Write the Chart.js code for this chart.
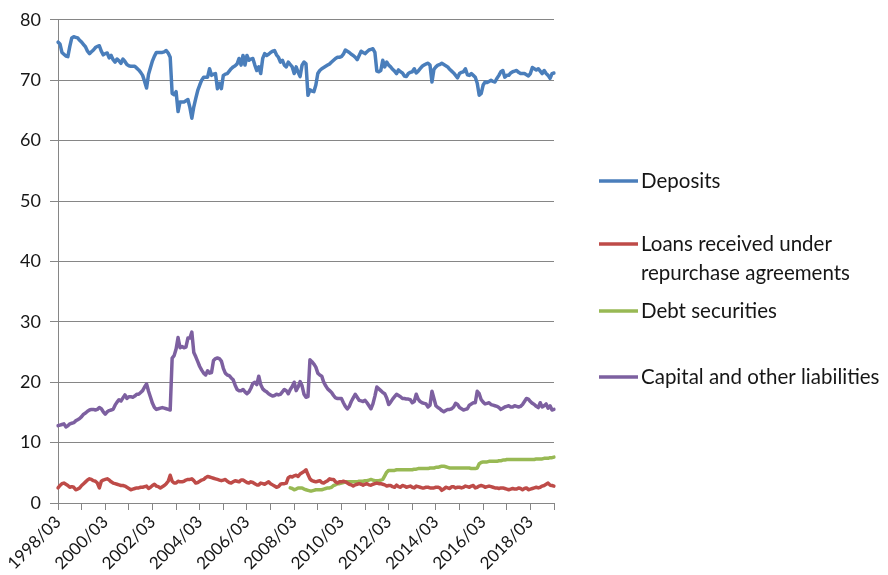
<!DOCTYPE html>
<html>
<head>
<meta charset="utf-8">
<title>Structure of bank liabilities</title>
<script src="https://cdn.jsdelivr.net/npm/chart.js@4/dist/chart.umd.min.js"></script>
<style>
  html, body { margin: 0; padding: 0; background: #ffffff; }
  #wrap { position: relative; width: 888px; height: 575px; }
</style>
</head>
<body>
<div id="wrap"><canvas id="chart" width="888" height="575"></canvas></div>
<script>
// Monthly series, share of total liabilities (%), 1998/03 .. 2019/03
const firstYear = 1998;
const firstMonth = 3;
const monthCount = 253;

const seriesNames = [
  'Deposits',
  'Loans received under\nrepurchase agreements',
  'Debt securities',
  'Capital and other liabilities'
];
const seriesColors = ['#4A7EBB', '#BE4B48', '#98B954', '#7D60A0'];

const deposits = [
  76.3, 76.0, 74.6, 74.3, 74.0, 73.9, 75.6, 77.0, 77.2, 77.1, 77.0, 76.6,
  76.3, 75.9, 75.5, 74.8, 74.4, 74.7, 75.0, 75.4, 75.6, 75.7, 74.8, 74.2,
  74.4, 74.5, 73.7, 74.1, 73.4, 73.0, 73.5, 73.2, 72.8, 73.5, 73.1, 72.6,
  72.4, 72.3, 72.3, 72.3, 72.0, 71.7, 71.3, 70.8, 69.8, 68.7, 71.0, 72.1,
  73.2, 74.0, 74.6, 74.6, 74.6, 74.6, 74.7, 74.9, 74.5, 73.8, 67.8, 67.6,
  68.1, 64.8, 66.4, 66.4, 66.4, 66.6, 66.8, 65.5, 63.7, 65.6, 67.0, 68.3,
  69.2, 70.0, 70.5, 70.5, 70.5, 71.9, 70.8, 71.0, 71.1, 68.6, 69.5, 68.6,
  70.8, 71.0, 71.1, 71.5, 71.9, 72.2, 72.4, 72.7, 73.6, 72.5, 74.1, 72.5,
  74.1, 73.3, 73.5, 73.6, 72.5, 71.6, 72.2, 71.1, 73.6, 74.4, 74.1, 74.3,
  74.6, 74.8, 74.9, 74.2, 73.8, 73.0, 73.3, 72.5, 72.2, 73.0, 72.6, 72.2,
  71.1, 72.2, 71.3, 70.6, 72.5, 73.0, 72.7, 67.5, 68.4, 68.2, 68.1, 69.2,
  71.1, 71.6, 71.9, 72.1, 72.3, 72.5, 72.7, 73.0, 73.3, 73.6, 73.8, 73.8,
  73.9, 74.3, 75.0, 74.8, 74.6, 74.3, 74.1, 73.8, 73.4, 74.1, 74.8, 74.6,
  74.4, 74.7, 75.0, 75.1, 75.2, 74.6, 71.5, 71.4, 71.6, 73.3, 72.2, 73.0,
  72.5, 72.2, 71.8, 71.5, 71.1, 71.7, 71.4, 71.2, 70.7, 70.6, 71.1, 71.3,
  71.4, 71.9, 71.2, 71.5, 71.9, 72.3, 72.5, 72.7, 72.8, 72.5, 69.7, 71.8,
  72.2, 72.5, 72.6, 72.8, 72.6, 72.4, 72.2, 71.8, 71.5, 71.2, 70.8, 70.4,
  71.1, 71.3, 71.4, 71.9, 70.9, 70.8, 71.1, 70.8, 70.5, 69.5, 67.5, 67.8,
  69.2, 69.7, 69.6, 69.8, 70.0, 69.8, 69.7, 70.3, 70.8, 71.4, 71.6, 70.5,
  70.8, 70.8, 71.2, 71.4, 71.5, 71.6, 71.3, 71.1, 71.1, 71.1, 70.9, 70.7,
  71.1, 72.1, 71.9, 71.7, 71.9, 71.5, 71.1, 71.6, 71.1, 70.8, 70.3, 71.1,
  71.2
];

const repoLoans = [
  2.5, 2.9, 3.2, 3.3, 3.1, 2.9, 2.6, 2.7, 2.6, 2.2, 2.3, 2.5,
  2.9, 3.2, 3.5, 3.8, 4.0, 3.9, 3.7, 3.6, 3.3, 2.5, 3.6, 3.8,
  3.9, 4.0, 3.8, 3.5, 3.3, 3.2, 3.1, 3.0, 2.9, 2.9, 2.8, 2.6,
  2.4, 2.2, 2.3, 2.4, 2.5, 2.5, 2.6, 2.6, 2.7, 2.8, 2.4, 2.6,
  2.9, 3.1, 2.8, 2.7, 2.5, 2.7, 2.9, 3.2, 3.6, 4.6, 3.6, 3.3,
  3.3, 3.6, 3.5, 3.5, 3.6, 3.8, 3.9, 3.9, 4.0, 3.7, 3.3, 3.4,
  3.6, 3.8, 3.9, 4.2, 4.4, 4.3, 4.2, 4.1, 4.0, 3.9, 3.8, 3.7,
  3.8, 3.9, 3.6, 3.4, 3.3, 3.5, 3.7, 3.6, 3.5, 3.8, 3.8, 3.6,
  3.4, 3.3, 3.5, 3.4, 3.2, 3.0, 3.0, 3.3, 3.2, 3.1, 3.3, 3.5,
  3.2, 3.0, 2.8, 2.6, 2.7, 3.1, 3.2, 3.2, 3.3, 4.2, 4.4, 4.3,
  4.5, 4.6, 4.4, 4.8, 5.0, 5.2, 5.5, 4.7, 4.0, 3.7, 3.6, 3.5,
  3.6, 3.7, 3.4, 3.3, 3.5, 3.7, 4.0, 3.9, 3.9, 3.5, 3.3, 3.5,
  3.5, 3.6, 3.5, 3.3, 3.1, 3.0, 2.8, 3.0, 3.1, 3.2, 3.1, 2.95,
  3.1, 3.2, 3.0, 2.95, 3.1, 3.2, 3.3, 3.2, 3.2, 3.1, 3.0, 2.8,
  2.9, 2.9, 2.7, 2.6, 2.95, 2.7, 2.6, 2.9, 2.8, 2.6, 2.7, 2.8,
  2.6, 2.5, 2.8, 2.7, 2.6, 2.5, 2.5, 2.6, 2.6, 2.5, 2.5, 2.5,
  2.6, 2.6, 2.5, 2.1, 2.3, 2.6, 2.5, 2.4, 2.7, 2.7, 2.5, 2.6,
  2.6, 2.5, 2.6, 2.8, 2.7, 2.6, 2.8, 2.9, 2.5, 2.6, 2.8, 2.9,
  2.8, 2.6, 2.7, 2.8, 2.7, 2.6, 2.5, 2.5, 2.4, 2.5, 2.5, 2.4,
  2.3, 2.2, 2.3, 2.4, 2.3, 2.3, 2.5, 2.4, 2.2, 2.4, 2.5, 2.2,
  2.3, 2.4, 2.5, 2.6, 2.5, 2.6, 2.8, 2.9, 3.1, 3.3, 2.95, 2.9,
  2.8
];

// Debt securities are reported from 2008/01 onwards
const debtFrom = '2008/01';
const debtSecurities = [
  2.5, 2.4,
  2.2, 2.3, 2.5, 2.5, 2.5, 2.3, 2.2, 2.1, 2.0, 2.0, 2.1, 2.2,
  2.2, 2.2, 2.2, 2.3, 2.4, 2.5, 2.5, 2.6, 2.9, 3.0, 3.2, 3.2,
  3.3, 3.4, 3.5, 3.5, 3.5, 3.5, 3.5, 3.5, 3.5, 3.6, 3.6, 3.6,
  3.7, 3.7, 3.8, 3.9, 3.8, 3.7, 3.7, 3.7, 3.8, 3.9, 4.5, 5.1,
  5.4, 5.4, 5.4, 5.4, 5.5, 5.5, 5.5, 5.5, 5.5, 5.5, 5.5, 5.5,
  5.5, 5.6, 5.6, 5.7, 5.7, 5.7, 5.7, 5.7, 5.7, 5.8, 5.8, 5.8,
  5.9, 5.9, 6.0, 6.1, 6.1, 6.0, 5.9, 5.8, 5.8, 5.8, 5.8, 5.8,
  5.8, 5.8, 5.8, 5.8, 5.8, 5.8, 5.7, 5.7, 5.7, 5.8, 6.5, 6.7,
  6.8, 6.8, 6.8, 6.9, 6.9, 6.9, 6.9, 6.9, 7.0, 7.0, 7.1, 7.1,
  7.2, 7.2, 7.2, 7.2, 7.2, 7.2, 7.2, 7.2, 7.2, 7.2, 7.2, 7.2,
  7.2, 7.2, 7.2, 7.3, 7.3, 7.3, 7.3, 7.4, 7.4, 7.4, 7.5, 7.5,
  7.6
];

const capitalOther = [
  12.8, 12.9, 13.0, 13.1, 12.6, 12.8, 13.1, 13.2, 13.3, 13.6, 13.8, 14.0,
  14.3, 14.7, 14.9, 15.2, 15.4, 15.5, 15.5, 15.4, 15.5, 15.8, 15.6, 15.1,
  14.7, 15.1, 15.3, 15.4, 15.5, 16.2, 16.7, 17.1, 16.9, 17.4, 17.9, 17.3,
  17.6, 17.6, 17.5, 17.7, 18.0, 18.0, 18.3, 18.6, 19.2, 19.7, 18.5, 17.5,
  16.5, 15.8, 15.5, 15.6, 15.7, 15.8, 15.7, 15.6, 15.5, 15.4, 24.0, 24.4,
  25.5, 27.4, 25.7, 25.9, 25.7, 25.8, 27.3, 27.3, 28.3, 24.9, 24.2, 23.4,
  22.6, 22.0, 21.5, 21.2, 21.9, 21.5, 21.6, 23.6, 23.9, 24.0, 23.9, 23.5,
  22.3, 21.5, 21.2, 21.1, 20.7, 20.4, 19.5, 18.8, 18.6, 18.6, 18.8, 18.4,
  18.1, 18.4, 19.0, 19.8, 20.0, 19.6, 21.0, 19.6, 18.9, 18.6, 18.4, 18.1,
  17.9, 17.7, 17.8, 18.0, 17.9, 18.0, 18.4, 18.8, 18.6, 18.1, 18.8, 19.3,
  20.0, 18.6, 19.2, 20.1, 19.4, 18.0, 17.5, 17.6, 23.7, 23.4, 23.0, 22.5,
  21.5, 21.2, 21.0, 20.0, 19.4, 18.9, 18.6, 18.3, 17.8, 17.4, 17.3, 17.3,
  17.3, 16.6, 16.0, 15.6, 16.0, 16.8, 17.4, 18.0, 17.5, 17.0, 16.9, 16.8,
  17.0, 16.6, 16.1, 15.6, 16.4, 17.7, 19.2, 18.9, 18.6, 18.3, 18.1, 17.4,
  16.3, 16.7, 17.2, 17.6, 18.0, 17.8, 17.6, 17.3, 17.3, 17.2, 17.2, 17.1,
  16.6, 16.8, 18.0, 17.2, 16.8, 16.6, 16.5, 16.4, 15.9, 16.2, 18.5, 17.3,
  16.1, 15.8, 15.6, 15.3, 15.1, 15.3, 15.5, 15.5, 15.6, 15.9, 16.5, 16.3,
  15.8, 15.6, 15.4, 15.5, 15.6, 16.2, 16.4, 16.6, 16.6, 18.5, 18.1, 17.1,
  16.7, 16.4, 16.5, 16.6, 16.3, 16.2, 16.1, 16.0, 15.8, 15.5, 15.7, 15.9,
  16.0, 16.1, 15.9, 15.9, 16.1, 16.0, 15.9, 16.0, 16.3, 16.8, 17.3, 17.2,
  16.8, 16.5, 16.3, 16.0, 15.8, 16.6, 15.9, 16.1, 16.4, 15.7, 16.1, 15.4,
  15.5
];

const yTicks = { min: 0, max: 80, step: 10 };

// Month labels "YYYY/MM"
const months = [];
for (let k = 0; k < monthCount; k++) {
  const m0 = firstMonth - 1 + k;
  const y = firstYear + Math.floor(m0 / 12);
  const m = (m0 % 12) + 1;
  months.push(y + '/' + String(m).padStart(2, '0'));
}

// Align the shorter debt series to the month axis
const debtOffset = months.indexOf(debtFrom);
const debtAligned = months.map((_, i) => {
  const j = i - debtOffset;
  return j >= 0 && j < debtSecurities.length ? debtSecurities[j] : null;
});

const AXIS_GRAY = '#868686';
const TEXT = '#161616';
const FONT = 'Lato, "Liberation Sans", sans-serif';
const LINE_WIDTH = 3.5;

// Legend drawn to the right of the plot, one block per series
const sideLegend = {
  id: 'sideLegend',
  afterDraw(chart) {
    const ctx = chart.ctx;
    const rows = [181, 244, 311, 377];
    const lineX0 = 599, lineX1 = 638, textX = 641, lineGap = 29;
    ctx.save();
    ctx.font = '20.5px ' + FONT;
    ctx.textBaseline = 'middle';
    ctx.textAlign = 'left';
    chart.data.datasets.forEach((ds, i) => {
      const y = rows[i];
      ctx.strokeStyle = ds.borderColor;
      ctx.lineWidth = LINE_WIDTH;
      ctx.lineCap = 'butt';
      ctx.beginPath();
      ctx.moveTo(lineX0, y);
      ctx.lineTo(lineX1, y);
      ctx.stroke();
      ctx.fillStyle = TEXT;
      ds.label.split('\n').forEach((line, k) => {
        ctx.fillText(line, textX, y + k * lineGap);
      });
    });
    ctx.restore();
  }
};

function draw() {
  const series = [deposits, repoLoans, debtAligned, capitalOther];
  new Chart(document.getElementById('chart'), {
    type: 'line',
    data: {
      labels: months,
      datasets: series.map((data, i) => ({
        label: seriesNames[i],
        data: data,
        borderColor: seriesColors[i],
        backgroundColor: seriesColors[i],
        borderWidth: LINE_WIDTH,
        pointRadius: 0,
        pointHoverRadius: 0,
        tension: 0,
        spanGaps: false,
        borderJoinStyle: 'round',
        borderCapStyle: 'round'
      }))
    },
    options: {
      responsive: false,
      animation: false,
      events: [],
      layout: { padding: { top: 15, right: 334, left: 0, bottom: 0 } },
      plugins: {
        legend: { display: false },
        tooltip: { enabled: false },
        title: { display: false }
      },
      scales: {
        x: {
          type: 'category',
          offset: false,
          border: { display: true, color: AXIS_GRAY, width: 1 },
          grid: {
            drawOnChartArea: false,
            drawTicks: true,
            tickLength: 7,
            offset: false,
            tickColor: (c) => (c.index % 12 === 0 ? AXIS_GRAY : 'rgba(0,0,0,0)'),
            lineWidth: 1
          },
          ticks: {
            autoSkip: false,
            minRotation: 45,
            maxRotation: 45,
            padding: 2,
            color: TEXT,
            font: { family: FONT, size: 17 },
            callback: function (value, index) {
              return index % 24 === 0 ? this.getLabelForValue(value) : '';
            }
          },
          afterFit: (s) => { s.height = 72; }
        },
        y: {
          min: yTicks.min,
          max: yTicks.max,
          border: { display: true, color: AXIS_GRAY, width: 1 },
          grid: {
            color: AXIS_GRAY,
            lineWidth: 1,
            drawTicks: true,
            tickLength: 8,
            tickColor: AXIS_GRAY
          },
          ticks: {
            stepSize: yTicks.step,
            padding: 9,
            color: TEXT,
            font: { family: FONT, size: 18 }
          },
          afterFit: (s) => { s.width = 58; }
        }
      }
    },
    plugins: [sideLegend]
  });
}

if (document.fonts && document.fonts.load) {
  Promise.all([
    document.fonts.load('17px Lato'),
    document.fonts.load('20px Lato')
  ]).then(draw, draw);
} else {
  draw();
}
</script>
</body>
</html>
